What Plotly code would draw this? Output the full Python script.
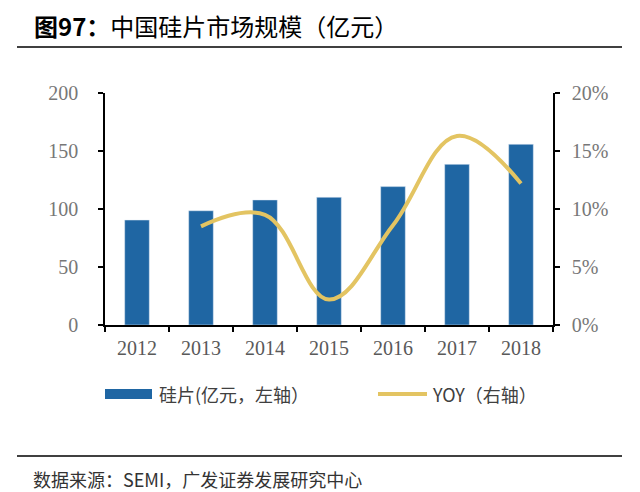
import plotly.graph_objects as go

years = ["2012", "2013", "2014", "2015", "2016", "2017", "2018"]
wafer = [90.5, 98.5, 107.8, 110.1, 119.3, 138.5, 155.8]
yoy_years = ["2013", "2014", "2015", "2016", "2017", "2018"]
yoy = [0.085, 0.095, 0.022, 0.086, 0.163, 0.122]

BAR = "#1F66A3"
LINE = "#E3C462"
OFF = 8  # browser body margin
W, H = 640 - OFF, 492 - OFF
L, R, T, B = 105 - OFF, 553 - OFF, 93 - OFF, 325 - OFF

def px(x):
    return (x - OFF - L) / (R - L)

def py(y):
    return (B - (y - OFF)) / (B - T)

fig = go.Figure()
fig.add_trace(go.Bar(x=years, y=wafer, marker_color=BAR, name="硅片(亿元，左轴）",
                     showlegend=False))
fig.add_trace(go.Scatter(x=yoy_years, y=yoy, yaxis="y2", mode="lines",
                         line=dict(color=LINE, width=4, shape="spline", smoothing=1.1),
                         name="YOY（右轴）", showlegend=False))

tickfont = dict(family="Liberation Serif", size=20, color="#777777")

fig.update_layout(
    width=W, height=H,
    margin=dict(l=L, r=W - R, t=T, b=H - B, pad=0),
    paper_bgcolor="white", plot_bgcolor="white",
    bargap=0.615,
    xaxis=dict(type="category", showline=True, linecolor="black", linewidth=1.5,
               ticks="outside", tickson="boundaries", ticklen=5, tickcolor="black",
               tickwidth=1.5, tickfont=dict(family="Liberation Serif", size=20, color="#595959"),
               ticklabelstandoff=4, showgrid=False),
    yaxis=dict(range=[0, 200], dtick=50, showline=True, linecolor="black", linewidth=1.5,
               ticks="outside", ticklen=5, tickcolor="black", tickwidth=1.5,
               tickfont=tickfont, ticklabelstandoff=16, showgrid=False, zeroline=False),
    yaxis2=dict(range=[0, 0.2], dtick=0.05, tickformat=".0%", overlaying="y", side="right",
                showline=True, linecolor="black", linewidth=1.5, ticks="outside", ticklen=5,
                tickcolor="black", tickwidth=1.5, tickfont=tickfont, ticklabelstandoff=8,
                showgrid=False, zeroline=False),
)

shapes = [
    dict(type="line", xref="paper", yref="paper", x0=px(17), x1=px(622), y0=py(47), y1=py(47),
         line=dict(color="black", width=1.5)),
    dict(type="line", xref="paper", yref="paper", x0=px(17), x1=px(622), y0=py(456), y1=py(456),
         line=dict(color="black", width=1.5)),
    dict(type="rect", xref="paper", yref="paper", x0=px(105), x1=px(152), y0=py(399), y1=py(389),
         fillcolor=BAR, line=dict(width=0)),
    dict(type="line", xref="paper", yref="paper", x0=px(378), x1=px(427), y0=py(394), y1=py(394),
         line=dict(color=LINE, width=4)),
]
fig.update_layout(shapes=shapes)

ann = [
    dict(text="<b>图97：</b>中国硅片市场规模（亿元）", x=px(32), y=py(25), xanchor="left",
         yanchor="middle", font=dict(family="Noto Sans CJK SC", size=24, color="black")),
    dict(text="硅片(亿元，左轴）", x=px(157), y=py(394), xanchor="left", yanchor="middle",
         font=dict(family="Noto Sans CJK SC", size=18, color="#404040")),
    dict(text="YOY（右轴）", x=px(430), y=py(394), xanchor="left", yanchor="middle",
         font=dict(family="Noto Sans CJK SC", size=18, color="#404040")),
    dict(text="数据来源：SEMI，广发证券发展研究中心", x=px(31), y=py(479), xanchor="left",
         yanchor="middle", font=dict(family="Noto Sans CJK SC", size=18, color="#333333")),
]
for a in ann:
    a.update(xref="paper", yref="paper", showarrow=False)
fig.update_layout(annotations=ann)

fig.write_html("out.html")
